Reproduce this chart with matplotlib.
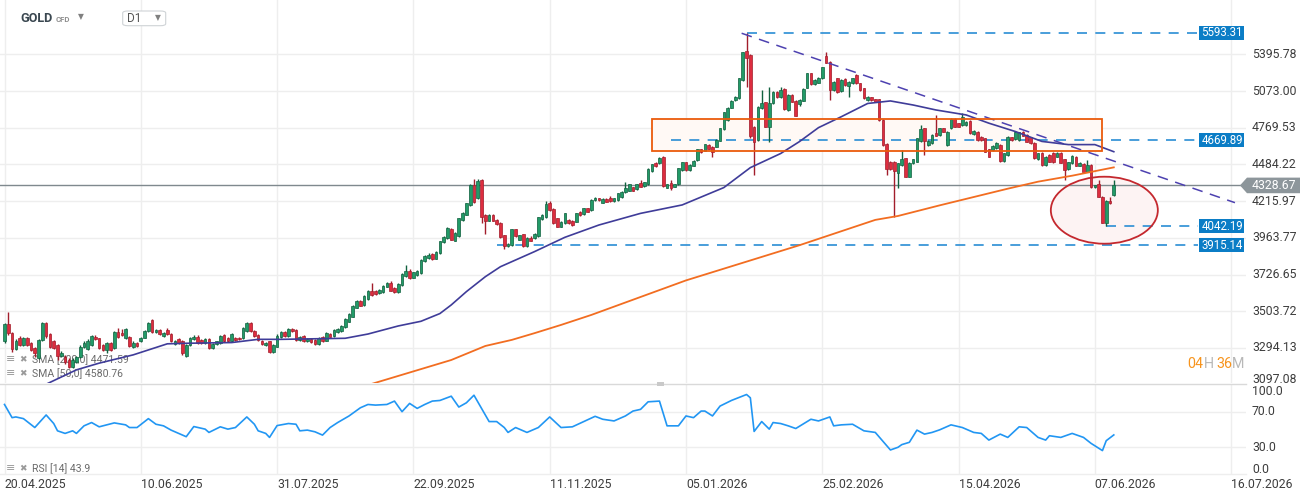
"""GOLD CFD, D1: candles with SMA 50/200, drawn levels and RSI(14) panel."""
import matplotlib

matplotlib.use("Agg")
import matplotlib.pyplot as plt
import numpy as np
from matplotlib.patches import Rectangle, Ellipse, Polygon, FancyBboxPatch
from matplotlib.transforms import blended_transform_factory

plt.rcParams["font.family"] = ["Roboto", "DejaVu Sans"]

# daily bars, index 0 = 20.04.2025
opens = [
    3330, 3428, 3376, 3290, 3352, 3311, 3350, 3321, 3296, 3238,
    3339, 3436, 3371, 3333, 3311, 3252, 3247, 3228, 3192, 3219,
    3247, 3302, 3290, 3311, 3358, 3348, 3311, 3283, 3321, 3292,
    3385, 3376, 3348, 3358, 3302, 3321, 3330, 3352, 3390, 3453,
    3385, 3395, 3363, 3395, 3371, 3315, 3343, 3333, 3252, 3311,
    3343, 3358, 3339, 3321, 3343, 3292, 3315, 3321, 3367, 3348,
    3330, 3352, 3352, 3348, 3390, 3434, 3390, 3367, 3333, 3311,
    3330, 3271, 3302, 3358, 3382, 3363, 3401, 3395, 3339, 3363,
    3330, 3343, 3339, 3317, 3354, 3335, 3373, 3363, 3382, 3391,
    3414, 3443, 3472, 3525, 3565, 3541, 3575, 3622, 3627, 3611,
    3617, 3652, 3677, 3646, 3617, 3662, 3719, 3751, 3708, 3724,
    3735, 3810, 3830, 3857, 3827, 3862, 3933, 3964, 4025, 3945,
    3975, 4084, 4122, 4189, 4332, 4238, 4366, 4122, 4080, 4122,
    4084, 4067, 3980, 3909, 3913, 4021, 3952, 3987, 3909, 3964,
    3964, 3975, 4091, 4105, 4201, 4161, 4096, 4039, 4062, 4085,
    4078, 4073, 4142, 4126, 4165, 4154, 4224, 4236, 4205, 4232,
    4236, 4215, 4224, 4242, 4280, 4290, 4315, 4300, 4345, 4325,
    4337, 4435, 4497, 4492, 4540, 4312, 4345, 4320, 4337, 4442,
    4500, 4442, 4475, 4518, 4600, 4588, 4633, 4620, 4620, 4667,
    4756, 4832, 4932, 4997, 5010, 5168, 5425, 5389, 4778, 4672,
    4927, 4977, 4778, 4969, 5068, 5018, 5090, 4914, 5039, 4990,
    4960, 4990, 5100, 5225, 5130, 5145, 5182, 5380, 5330, 5082,
    5183, 5070, 5177, 5118, 5140, 5211, 5140, 5097, 4997, 5018,
    5003, 5003, 4832, 4640, 4505, 4505, 4418, 4480, 4530, 4392,
    4492, 4505, 4665, 4764, 4633, 4646, 4730, 4712, 4764, 4633,
    4764, 4840, 4805, 4791, 4791, 4824, 4717, 4738, 4698, 4685,
    4600, 4594, 4607, 4633, 4511, 4556, 4693, 4677, 4672, 4738,
    4712, 4693, 4651, 4522, 4573, 4480, 4556, 4573, 4543, 4573,
    4522, 4450, 4492, 4543, 4475, 4487, 4430, 4480, 4315, 4339,
    4248, 4062, 4217, 4260,
]
highs = [
    3436, 3501, 3382, 3346, 3360, 3358, 3356, 3326, 3300, 3346,
    3440, 3441, 3377, 3340, 3316, 3275, 3253, 3238, 3238, 3252,
    3310, 3330, 3342, 3368, 3366, 3352, 3318, 3328, 3326, 3388,
    3405, 3400, 3405, 3362, 3335, 3328, 3358, 3395, 3440, 3460,
    3400, 3400, 3385, 3405, 3378, 3340, 3352, 3338, 3318, 3358,
    3365, 3364, 3345, 3348, 3348, 3320, 3335, 3368, 3372, 3355,
    3376, 3356, 3358, 3410, 3440, 3440, 3395, 3372, 3338, 3326,
    3335, 3318, 3370, 3392, 3390, 3406, 3408, 3400, 3360, 3368,
    3350, 3348, 3344, 3354, 3360, 3381, 3378, 3400, 3406, 3425,
    3462, 3491, 3540, 3570, 3572, 3602, 3631, 3672, 3632, 3636,
    3663, 3682, 3684, 3651, 3673, 3734, 3787, 3760, 3745, 3756,
    3822, 3852, 3862, 3862, 3874, 3945, 3976, 4037, 4030, 4002,
    4101, 4141, 4206, 4337, 4377, 4377, 4377, 4127, 4127, 4127,
    4089, 4072, 3985, 3930, 4026, 4026, 3985, 3992, 3969, 3976,
    3995, 4108, 4127, 4220, 4215, 4166, 4101, 4078, 4135, 4090,
    4083, 4135, 4147, 4170, 4170, 4229, 4245, 4241, 4237, 4237,
    4250, 4241, 4277, 4289, 4356, 4342, 4320, 4342, 4368, 4355,
    4455, 4490, 4502, 4540, 4545, 4342, 4368, 4342, 4460, 4505,
    4505, 4485, 4515, 4605, 4605, 4643, 4638, 4625, 4677, 4769,
    4900, 4937, 4993, 5030, 5187, 5418, 5593.31, 5394, 4783, 4946,
    5082, 4982, 5110, 5073, 5073, 5110, 5095, 5044, 5044, 4995,
    5002, 5095, 5230, 5230, 5173, 5190, 5285, 5420, 5335, 5158,
    5188, 5173, 5182, 5158, 5188, 5216, 5145, 5102, 5030, 5023,
    5008, 5008, 4837, 4650, 4510, 4510, 4497, 4594, 4535, 4502,
    4527, 4690, 4791, 4769, 4670, 4717, 4873, 4769, 4769, 4743,
    4845, 4845, 4810, 4887, 4823, 4829, 4750, 4743, 4703, 4690,
    4605, 4630, 4656, 4638, 4573, 4703, 4698, 4743, 4738, 4743,
    4717, 4698, 4656, 4573, 4578, 4548, 4561, 4578, 4578, 4578,
    4527, 4505, 4553, 4548, 4502, 4492, 4518, 4485, 4335, 4368,
    4253, 4222, 4248, 4368,
]
lows = [
    3322, 3368, 3274, 3284, 3304, 3305, 3304, 3277, 3247, 3232,
    3334, 3347, 3292, 3288, 3228, 3244, 3205, 3185, 3186, 3212,
    3240, 3296, 3283, 3305, 3336, 3290, 3276, 3265, 3278, 3288,
    3350, 3360, 3343, 3300, 3296, 3300, 3325, 3348, 3385, 3378,
    3378, 3366, 3358, 3366, 3325, 3310, 3316, 3255, 3245, 3305,
    3338, 3316, 3316, 3316, 3286, 3288, 3310, 3316, 3328, 3325,
    3325, 3334, 3338, 3343, 3385, 3385, 3358, 3333, 3310, 3305,
    3265, 3265, 3298, 3352, 3358, 3358, 3386, 3334, 3334, 3325,
    3325, 3321, 3312, 3312, 3325, 3330, 3353, 3358, 3377, 3386,
    3409, 3438, 3467, 3520, 3532, 3536, 3570, 3596, 3602, 3606,
    3612, 3647, 3622, 3612, 3612, 3657, 3714, 3700, 3703, 3719,
    3730, 3805, 3825, 3820, 3822, 3857, 3928, 3959, 3947, 3940,
    3970, 4079, 4117, 4184, 4205, 4233, 4067, 3990, 4075, 4075,
    4051, 3965, 3890, 3900, 3908, 3970, 3947, 3904, 3904, 3940,
    3959, 3970, 4086, 4100, 4149, 4060, 4034, 4034, 4057, 4057,
    4045, 4068, 4114, 4121, 4137, 4149, 4219, 4219, 4200, 4207,
    4210, 4210, 4219, 4237, 4275, 4285, 4285, 4295, 4315, 4320,
    4332, 4430, 4467, 4487, 4320, 4307, 4296, 4315, 4332, 4437,
    4437, 4437, 4470, 4513, 4571, 4583, 4598, 4540, 4615, 4662,
    4751, 4827, 4927, 4992, 5005, 5163, 5110, 4690, 4405, 4667,
    4922, 4773, 4659, 4964, 5013, 5013, 4917, 4909, 4978, 4861,
    4950, 4985, 5095, 5125, 5125, 5140, 5177, 5313, 4997, 5077,
    5056, 5065, 5120, 5025, 5135, 5135, 5077, 5005, 4992, 4992,
    4978, 4827, 4628, 4405, 4445, 4107, 4308, 4475, 4387, 4387,
    4487, 4500, 4660, 4556, 4628, 4641, 4700, 4707, 4733, 4628,
    4759, 4773, 4773, 4786, 4786, 4720, 4712, 4667, 4667, 4576,
    4538, 4589, 4602, 4506, 4506, 4551, 4667, 4672, 4667, 4700,
    4654, 4641, 4525, 4517, 4475, 4475, 4500, 4495, 4538, 4492,
    4368, 4445, 4487, 4470, 4470, 4425, 4425, 4310, 4310, 4243,
    4061, 4042.19, 4195, 4255,
]
closes = [
    3428, 3376, 3290, 3335, 3311, 3352, 3311, 3283, 3265, 3339,
    3434, 3363, 3302, 3296, 3252, 3265, 3219, 3192, 3228, 3247,
    3302, 3321, 3335, 3363, 3343, 3296, 3283, 3321, 3283, 3382,
    3358, 3367, 3400, 3307, 3321, 3307, 3352, 3390, 3434, 3382,
    3395, 3371, 3380, 3371, 3333, 3335, 3321, 3265, 3311, 3352,
    3358, 3321, 3321, 3343, 3292, 3315, 3330, 3363, 3333, 3330,
    3371, 3339, 3343, 3405, 3434, 3390, 3363, 3339, 3315, 3321,
    3274, 3311, 3363, 3386, 3363, 3401, 3391, 3339, 3354, 3330,
    3345, 3326, 3317, 3349, 3330, 3376, 3358, 3395, 3401, 3420,
    3457, 3486, 3535, 3565, 3537, 3597, 3626, 3601, 3607, 3631,
    3658, 3677, 3627, 3617, 3668, 3729, 3751, 3708, 3740, 3751,
    3817, 3847, 3851, 3825, 3869, 3940, 3971, 4032, 3952, 3997,
    4096, 4136, 4201, 4332, 4212, 4363, 4105, 4080, 4122, 4080,
    4056, 3970, 3909, 3926, 4021, 3975, 3980, 3909, 3964, 3945,
    3990, 4103, 4122, 4194, 4154, 4067, 4039, 4073, 4130, 4062,
    4050, 4130, 4119, 4165, 4142, 4224, 4240, 4224, 4232, 4212,
    4215, 4236, 4272, 4284, 4308, 4337, 4290, 4337, 4320, 4350,
    4450, 4485, 4472, 4535, 4325, 4337, 4308, 4337, 4455, 4500,
    4442, 4480, 4510, 4600, 4576, 4638, 4603, 4575, 4672, 4764,
    4895, 4932, 4988, 5025, 5182, 5413, 5360, 4700, 4659, 4941,
    4969, 4778, 4969, 5068, 5018, 5082, 4922, 5039, 4983, 4866,
    4997, 5090, 5225, 5130, 5168, 5185, 5280, 5318, 5082, 5153,
    5061, 5168, 5125, 5153, 5183, 5140, 5082, 5010, 5025, 4997,
    4983, 4832, 4633, 4450, 4450, 4437, 4492, 4525, 4392, 4497,
    4522, 4685, 4756, 4665, 4665, 4712, 4705, 4764, 4738, 4738,
    4840, 4778, 4778, 4860, 4818, 4725, 4745, 4672, 4672, 4581,
    4543, 4625, 4651, 4511, 4568, 4698, 4672, 4738, 4733, 4705,
    4659, 4646, 4530, 4568, 4480, 4543, 4505, 4500, 4573, 4497,
    4442, 4500, 4548, 4475, 4497, 4430, 4480, 4315, 4330, 4248,
    4066, 4217, 4200, 4328.67,
]

# moving averages (bar index, value)
sma50_bars = [10, 19, 25, 34, 43, 48, 60, 67, 73, 90, 96, 104, 110, 115, 118, 122, 127,
              131, 140, 148, 157, 168, 179, 190, 197, 205, 210, 215, 221, 228, 234,
              240, 246, 254, 260, 267, 274, 281, 288, 293]
sma50_vals = [3090, 3175, 3211, 3256, 3317, 3320, 3324, 3342, 3342, 3348, 3372, 3418,
              3445, 3490, 3541, 3621, 3713, 3776, 3873, 3967, 4050, 4130, 4189, 4313, 4460,
              4567, 4660, 4770, 4858, 4968, 4989, 4955, 4914, 4873, 4806, 4739, 4661,
              4636, 4636, 4581]
sma200_bars = [96, 118, 127, 134, 140, 147, 155, 180, 210, 230, 236, 247, 265, 273, 282, 293]
sma200_vals = [3095, 3228, 3305, 3339, 3377, 3424, 3482, 3690, 3915, 4085, 4112, 4186,
               4305, 4356, 4400, 4462]

rsi_bars = [0, 2, 3, 5, 8, 11, 13, 14, 16, 18, 19, 21, 23, 25, 27, 29, 32, 33, 35, 38,
            40, 42, 44, 48, 50, 53, 54, 57, 59, 61, 64, 66, 67, 69, 70, 72, 75, 77, 78, 80,
            82, 84, 86, 88, 91, 94, 96, 98, 101, 103, 105, 107, 109, 111, 113, 115, 118,
            120, 122, 124, 128, 130, 132, 133, 135, 138, 141, 144, 147, 150, 153, 156, 158,
            161, 164, 166, 168, 170, 173, 175, 178, 180, 182, 184, 185, 187, 189, 192, 196,
            197, 198, 200, 202, 203, 205, 207, 209, 213, 215, 218, 219, 221, 224, 227, 230,
            234, 236, 237, 239, 241, 243, 245, 247, 250, 253, 256, 258, 260, 263, 265, 268,
            270, 273, 275, 276, 279, 282, 285, 287, 290, 291, 293]
rsi_vals = [78.1, 63.3, 64.1, 62.2, 52.2, 66.3, 56.7, 48.5, 45.6, 48.5, 45.6, 54.1, 57.8,
            53.0, 55.2, 57.4, 55.2, 52.2, 52.2, 62.2, 55.9, 54.1, 49.3, 41.9, 53.3, 50.4,
            46.7, 53.0, 50.4, 52.2, 64.1, 55.9, 48.5, 45.6, 41.1, 54.4, 56.7, 55.9, 48.5,
            49.3, 47.4, 43.7, 52.2, 57.8, 65.2, 74.4, 78.1, 77.4, 78.1, 81.9, 70.0, 79.3,
            73.7, 78.1, 81.9, 82.6, 87.4, 75.2, 80.0, 88.5, 58.9, 58.9, 52.2, 46.7, 52.2,
            46.7, 52.2, 64.1, 52.2, 53.0, 58.9, 64.8, 61.5, 59.6, 65.2, 70.7, 72.6, 81.1,
            81.9, 54.1, 54.1, 65.2, 63.3, 70.7, 70.7, 65.2, 76.3, 82.6, 89.3, 85.6, 47.8,
            58.9, 50.4, 57.8, 56.7, 54.1, 51.1, 61.5, 59.6, 64.1, 54.1, 55.2, 55.9, 48.5,
            46.7, 27.0, 30.0, 33.0, 35.6, 49.3, 44.8, 46.7, 49.6, 55.2, 52.2, 46.7, 45.6,
            38.1, 44.8, 41.1, 53.0, 52.2, 41.1, 38.1, 43.0, 41.1, 45.6, 41.1, 34.4, 26.3,
            37.4, 43.9]

date_labels = ["20.04.2025", "10.06.2025", "31.07.2025", "22.09.2025", "11.11.2025",
               "05.01.2026", "25.02.2026", "15.04.2026", "07.06.2026", "16.07.2026"]
BARS_PER_LABEL = 36
price_ticks = [5395.78, 5073.00, 4769.53, 4484.22, 4215.97, 3963.77, 3726.65, 3503.72, 3294.13]
last_price = 4328.67

# horizontal levels: value, first bar
levels = [5593.31, 4669.89, 4042.19, 3915.14]
level_from = [196, 176, 291, 130]
# drawn objects (bar, price)
trend_bars, trend_prices = [194.7, 325.0], [5590, 4205]
zone_bars, zone_prices = [171.1, 290.0], [4583, 4837]
circle_bar, circle_price = 290.5, 4152

GREEN, GREEN_EDGE = "#229b68", "#11613f"
RED, RED_EDGE = "#dd2d3f", "#a21d2b"
GRID = "#eeeeee"
TXT = "#3d3d3d"

W, H = 1312, 501
BAR_PX, X0, RIGHT = 3.786, 4.5, 1246


def fx(px):
    return px / W


def fy(py):
    return 1 - py / H


fig = plt.figure(figsize=(W / 100, H / 100), dpi=100)
ax = fig.add_axes([0, fy(383), fx(RIGHT), fy(0) - fy(383)])
axr = fig.add_axes([0, fy(474), fx(RIGHT), fy(384) - fy(474)])
for a in (ax, axr):
    a.set_xlim(-X0 / BAR_PX, (RIGHT - X0) / BAR_PX)
    for s in a.spines.values():
        s.set_visible(False)
ax.set_yscale("log")
ax.set_ylim(3105.6, 5911.3)
axr.set_ylim(0, 101.1)
for a in (ax, axr):
    a.tick_params(which="both", left=False, bottom=False, labelleft=False, labelbottom=False)

# grid
label_bars = np.arange(len(date_labels)) * BARS_PER_LABEL
for a in (ax, axr):
    for b in label_bars:
        a.axvline(b, color=GRID, lw=1, zorder=0)
for p in price_ticks:
    ax.axhline(p, color=GRID, lw=1, zorder=0)
for v in (70, 30):
    axr.axhline(v, color=GRID, lw=1, zorder=0)
axr.plot([0, 1], [1, 1], transform=axr.transAxes, color="#d9d9d9", lw=1, clip_on=False)
axr.plot([0, 1], [0, 0], transform=axr.transAxes, color="#eeeeee", lw=1, clip_on=False)

# drawn zone + ellipse (fills under candles)
zone_kw = dict(xy=(zone_bars[0], zone_prices[0]), width=zone_bars[1] - zone_bars[0],
               height=zone_prices[1] - zone_prices[0])
ax.add_patch(Rectangle(**zone_kw, facecolor="#fff9f5", edgecolor="none", zorder=1))
ax.add_patch(Rectangle(**zone_kw, fill=False, edgecolor="#ea5b0c", lw=1.3, zorder=6))
cx, cy = (ax.transData + ax.transAxes.inverted()).transform((circle_bar, circle_price))
ell_kw = dict(xy=(cx, cy), width=107 / RIGHT, height=67 / 383, transform=ax.transAxes)
ax.add_patch(Ellipse(**ell_kw, facecolor="#fdf3f3", edgecolor="none", zorder=1))
ax.add_patch(Ellipse(**ell_kw, fill=False, edgecolor="#c4282e", lw=1.3, zorder=6))

# current price line and levels
ax.axhline(last_price, color="#7f898e", lw=1.0, zorder=2)
end_bar = (1198 - X0) / BAR_PX
for lv, b0 in zip(levels, level_from):
    ax.plot([b0, end_bar], [lv, lv], color="#2a8dd4", lw=1.2, dashes=(6, 5), zorder=2.5)
ax.plot(trend_bars, trend_prices, color="#4d41b0", lw=1.1, dashes=(7, 5), zorder=5)

# candles
x = np.arange(len(closes))
o, h, l, c = (np.asarray(v, float) for v in (opens, highs, lows, closes))
up = c >= o
face = np.where(up, GREEN, RED)
edge = np.where(up, GREEN_EDGE, RED_EDGE)
bottom = np.minimum(o, c)
height = np.maximum(np.abs(c - o), bottom * 0.0007)
ax.vlines(x, l, h, colors=edge, lw=1.0, zorder=3)
ax.bar(x, height, bottom=bottom, width=0.7, color=face, edgecolor=edge, linewidth=0.5, zorder=4)

# moving averages
ax.plot(sma50_bars, sma50_vals, color="#3f3c99", lw=1.2, zorder=5)
ax.plot(sma200_bars, sma200_vals, color="#f26d21", lw=1.3, zorder=5)

# RSI
axr.plot(rsi_bars, rsi_vals, color="#2196f3", lw=1.2, zorder=3)

# axis labels
yb = blended_transform_factory(ax.transAxes, ax.transData)
for p in price_ticks:
    ax.text(1252 / RIGHT, p, f"{p:.2f}", transform=yb, ha="left", va="center",
            fontsize=8.8, color=TXT, clip_on=False)
fig.text(fx(1252), fy(379.5), "3097.08", ha="left", va="center", fontsize=8.8, color=TXT)
ybr = blended_transform_factory(axr.transAxes, axr.transData)
for v in (70, 30):
    axr.text(1252 / RIGHT, v, f"{v:.1f}", transform=ybr, ha="left", va="center",
             fontsize=8.8, color=TXT, clip_on=False)
fig.text(fx(1252), fy(391.5), "100.0", ha="left", va="center", fontsize=8.8, color=TXT)
fig.text(fx(1252), fy(469.5), "0.0", ha="left", va="center", fontsize=8.8, color=TXT)
xb = blended_transform_factory(axr.transData, axr.transAxes)
for b, s in zip(label_bars, date_labels):
    axr.text(b, (474 - 484) / 90, s, transform=xb, ha="left", va="center",
             fontsize=8.8, color=TXT, clip_on=False)


def price_to_fig_y(p):
    return fig.transFigure.inverted().transform(ax.transData.transform((0, p)))[1]


# level tags
for lv in levels:
    yc = price_to_fig_y(lv)
    fig.add_artist(Rectangle((fx(1199), yc - 7.2 / H), fx(45), 14.4 / H,
                             transform=fig.transFigure, facecolor="#0b7dc6",
                             edgecolor="none", zorder=6))
    fig.text(fx(1201.5), yc, f"{lv:.2f}", ha="left", va="center", fontsize=8.3,
             color="white", zorder=7)

# current price tag
yc = price_to_fig_y(last_price)
tag = [(fx(1240), yc), (fx(1247), yc + 7.8 / H), (fx(1300), yc + 7.8 / H),
       (fx(1300), yc - 7.8 / H), (fx(1247), yc - 7.8 / H)]
fig.add_artist(Polygon(tag, closed=True, transform=fig.transFigure,
                       facecolor="#8d969b", edgecolor="none", zorder=6))
fig.text(fx(1273.5), yc, f"{last_price:.2f}", ha="center", va="center",
         fontsize=8.8, color="white", zorder=7)

# header
fig.text(fx(20.5), fy(18.5), "GOLD", ha="left", va="center", fontsize=9.1,
         fontweight="bold", color="#3a4750")
fig.text(fx(56), fy(19.5), "CFD", ha="left", va="center", fontsize=5.6,
         fontweight="bold", color="#8f8f8f")
fig.text(fx(78), fy(17), "▼", ha="left", va="center", fontsize=5.5, color="#808080")
fig.add_artist(FancyBboxPatch((fx(122.7), fy(25.7)), fx(43), 14.7 / H,
                              boxstyle="round,pad=0,rounding_size=0.004",
                              transform=fig.transFigure, facecolor="white",
                              edgecolor="#cfd3d6", lw=0.8, zorder=2))
fig.text(fx(127.5), fy(18.5), "D1", ha="left", va="center", fontsize=8.5,
         color="#555555", zorder=3)
fig.text(fx(154.5), fy(17.5), "▼", ha="left", va="center", fontsize=5.5,
         color="#808080", zorder=3)

# indicator legends (under candles)
legend_rows = [("SMA [200;0] 4471.59", 359.3, ax), ("SMA [50;0] 4580.76", 373.3, ax),
               ("RSI [14] 43.9", 468.3, axr)]
for s, ypx, a in legend_rows:
    a.text(fx(6), fy(ypx), "≡", transform=fig.transFigure, ha="left", va="center",
           fontsize=8, color="#9a9a9a", zorder=1, clip_on=False)
    a.text(fx(19), fy(ypx), "✖", transform=fig.transFigure, ha="left", va="center",
           fontsize=6.5, color="#9a9a9a", zorder=1, clip_on=False)
    a.text(fx(31.5), fy(ypx), s, transform=fig.transFigure, ha="left", va="center",
           fontsize=7.6, color="#6b6b6b", zorder=1, clip_on=False)

# candle countdown
for s, col, xp in [("04", "#f7941d", 1187), ("H", "#b8b8b8", 1203.5),
                   ("36", "#f7941d", 1216), ("M", "#b8b8b8", 1231.5)]:
    fig.text(fx(xp), fy(364.5), s, ha="left", va="center", fontsize=10.3, color=col)

# panel splitter handle
fig.add_artist(Rectangle((fx(657), fy(385.5)), fx(7), 4 / H, transform=fig.transFigure,
                         facecolor="#c9c9c9", edgecolor="none", zorder=3))

fig.savefig("out.png", dpi=100, facecolor="white")
